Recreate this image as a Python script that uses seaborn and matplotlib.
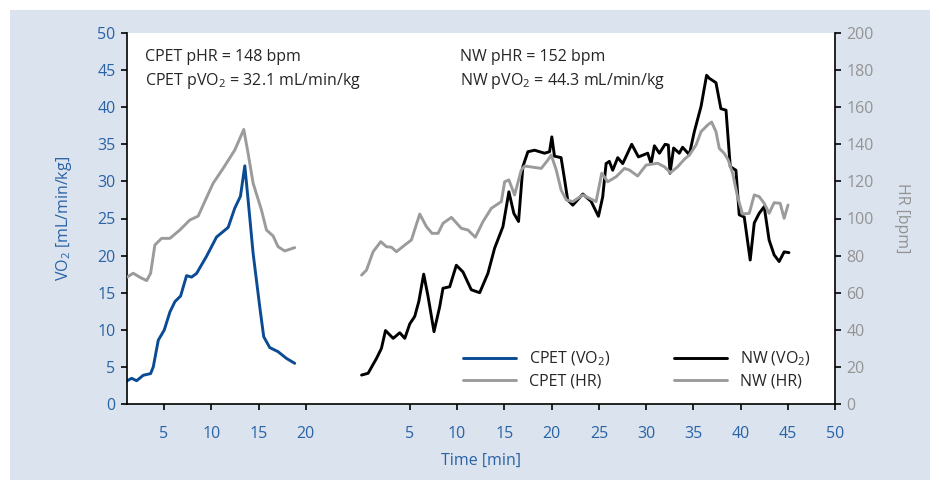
import numpy as np
import pandas as pd
import seaborn as sns
import matplotlib.pyplot as plt
from matplotlib.lines import Line2D
from matplotlib.patches import Rectangle

sns.set_style('ticks')
plt.rcParams['font.family'] = ['Open Sans', 'DejaVu Sans']
plt.rcParams['mathtext.default'] = 'regular'

##### data
# CPET test
cpet_vo2_t = [1.06, 1.58, 2.11, 2.81, 3.59, 3.87, 4.4, 5.03, 5.63, 6.16, 6.76, 7.39, 7.92, 8.45,
              9.5, 10.56, 11.79, 12.49, 13.09, 13.55, 13.9, 14.43, 15.13, 15.55, 16.19, 17.07,
              17.95, 18.83]
cpet_vo2 = [3.1, 3.46, 3.14, 3.87, 4.1, 5.0, 8.6, 9.97, 12.4, 13.8, 14.55, 17.3, 17.1, 17.6,
            19.9, 22.5, 23.8, 26.4, 28.0, 32.1, 27.5, 20.3, 13.1, 9.07, 7.6, 7.05, 6.15, 5.48]
cpet_hr_t = [1.06, 1.75, 2.46, 3.17, 3.59, 4.04, 4.75, 5.63, 6.68, 7.74, 8.62, 9.15, 10.2,
             11.26, 12.49, 13.44, 13.9, 14.43, 15.31, 15.84, 16.54, 17.07, 17.77, 18.83]
cpet_hr = [68.3, 70.5, 68.3, 66.5, 70.5, 85.7, 89.3, 89.3, 93.8, 99.2, 101.3, 107.3, 119,
           127, 136.9, 148, 135.1, 119, 104.6, 93.8, 90.6, 84.8, 82.5, 84.3]

# NW test
nw_vo2_t = [-0.1, 0.59, 1.48, 2.0, 2.43, 3.24, 3.94, 4.47, 5.0, 5.52, 5.95, 6.47, 6.93, 7.56,
            8.16, 8.51, 9.22, 9.92, 10.62, 11.5, 12.39, 13.26, 13.97, 14.85, 15.48, 16.0, 16.5,
            16.96, 17.49, 18.2, 19.25, 19.78, 20.02, 20.3, 21.0, 21.35, 21.7, 22.24, 23.3,
            24.18, 24.95, 25.4, 25.76, 26.1, 26.46, 26.99, 27.52, 28.47, 29.18, 30.16, 30.52,
            30.87, 31.4, 32.0, 32.34, 32.52, 32.9, 33.5, 33.85, 34.56, 35.09, 35.8, 36.39,
            36.67, 37.38, 37.9, 38.44, 38.89, 39.49, 39.84, 40.37, 41.0, 41.43, 41.95, 42.48,
            43.0, 43.53, 44.06, 44.59, 45.1]
nw_vo2 = [3.9, 4.14, 6.15, 7.5, 9.9, 8.85, 9.6, 8.85, 10.8, 11.8, 13.8, 17.5, 14.5, 9.75,
          13.1, 15.6, 15.8, 18.7, 17.8, 15.4, 15.0, 17.6, 21.0, 23.9, 28.6, 25.7, 24.6,
          32.0, 34.0, 34.2, 33.8, 34.0, 36.0, 33.4, 33.2, 30.4, 27.5, 26.8, 28.3,
          27.3, 25.3, 27.9, 32.4, 32.7, 31.5, 33.2, 32.4, 35.0, 33.3, 33.8, 32.4,
          34.8, 33.8, 35.0, 34.9, 31.1, 34.5, 33.8, 34.6, 33.6, 36.7, 40.1, 44.3,
          43.9, 43.3, 39.8, 39.6, 32.0, 31.5, 25.5, 25.2, 19.4, 24.4, 25.7, 26.6,
          22.1, 20.1, 19.2, 20.5, 20.4]
nw_hr_t = [-0.1, 0.42, 1.12, 1.93, 2.53, 3.06, 3.59, 4.47, 5.17, 6.05, 6.76, 7.35, 7.99, 8.51,
           9.4, 10.45, 11.15, 11.93, 12.74, 13.62, 14.68, 15.03, 15.48, 16.08, 16.79, 17.14,
           18.9, 19.6, 19.96, 20.49, 21.0, 21.55, 22.24, 23.3, 24.0, 24.7, 25.3, 25.93, 26.82,
           27.7, 28.23, 29.1, 29.99, 31.21, 31.92, 32.56, 33.33, 34.03, 34.56, 35.27, 35.8,
           36.5, 36.92, 37.38, 37.73, 38.26, 38.68, 39.14, 39.66, 40.19, 40.9, 41.43, 41.95,
           42.48, 43.0, 43.53, 44.17, 44.59, 45.0]
nw_hr = [69.5, 72.2, 82.1, 87.5, 84.8, 84.5, 82.1, 85.7, 88.4, 102.4, 95.6, 92, 92, 97.4,
         100.6, 94.7, 93.8, 89.9, 98.3, 105.5, 109.1, 119.8, 120.8, 112.7, 126.1, 128.3,
         127, 131.5, 134.2, 126.1, 115.4, 110, 109.1, 112.7, 110.9, 109.1, 124.4, 119.8, 122.5,
         127, 126.1, 122.9, 128.8, 129.8, 127.9, 124.7, 127.9, 131.9, 134.2, 139.6, 146.8,
         150.4, 152, 146.8, 137.8, 135.1, 131.5, 124.4, 111.8, 102.4, 102.8, 112.7, 111.8,
         108.2, 102.8, 108.5, 108.2, 100.1, 107.3]

cpet_ticks = [5, 10, 15, 20]
nw_ticks = [5, 10, 15, 20, 25, 30, 35, 40, 45, 50]
nw_offset = 26  # NW time axis starts after the CPET block

##### colours
blue = '#0a4b94'
tick_blue = '#2a62a6'
gray = '#9b9b9b'
gray_txt = '#939393'
panel = '#dbe4ee'

fig = plt.figure(figsize=(9.39, 4.82), dpi=100, facecolor='white')
fig.patches.append(Rectangle((10 / 939, 2 / 482), 920 / 939, 470 / 482, transform=fig.transFigure,
                             facecolor=panel, edgecolor='none', zorder=-10))
ax = fig.add_axes([126.7 / 939, 1 - 404 / 482, (835.3 - 126.7) / 939, 371 / 482])
ax.set_facecolor('white')
ax2 = ax.twinx()

lw = 2.1
sns.lineplot(x=cpet_vo2_t, y=cpet_vo2, ax=ax, color=blue, lw=lw, sort=False)
sns.lineplot(x=np.array(nw_vo2_t) + nw_offset, y=nw_vo2, ax=ax, color='black', lw=lw, sort=False)
sns.lineplot(x=cpet_hr_t, y=cpet_hr, ax=ax2, color=gray, lw=lw, sort=False)
sns.lineplot(x=np.array(nw_hr_t) + nw_offset, y=nw_hr, ax=ax2, color=gray, lw=lw, sort=False)

ax.set_xlim(cpet_vo2_t[0], nw_offset + 50)
ax.set_ylim(0, 50)
ax2.set_ylim(0, 200)
ax.set_yticks(range(0, 51, 5))
ax2.set_yticks(range(0, 201, 20))
ax.set_xticks(cpet_ticks + [t + nw_offset for t in nw_ticks])
ax.set_xticklabels([str(t) for t in cpet_ticks + nw_ticks])

fs = 11.5
for a in (ax, ax2):
    a.spines['top'].set_visible(False)
    for s in ('left', 'right', 'bottom'):
        a.spines[s].set_linewidth(1.2)
        a.spines[s].set_color('black')
    a.tick_params(direction='out', length=4, width=1.2, color='black', labelsize=fs)
ax.spines['right'].set_visible(False)
ax2.spines['left'].set_visible(False)
ax2.spines['bottom'].set_visible(False)
ax.tick_params(axis='both', labelcolor=tick_blue, pad=4)
ax.tick_params(axis='x', pad=12)
ax2.tick_params(axis='y', labelcolor=gray_txt, pad=4)

ax.set_xlabel('Time [min]', color=tick_blue, fontsize=fs, labelpad=8)
ax.set_ylabel('VO$_2$ [mL/min/kg]', color=tick_blue, fontsize=fs, labelpad=17)
ax2.set_ylabel('HR [bpm]', color=gray_txt, fontsize=fs, rotation=270, labelpad=26)

ax.text(0.026, 0.957, 'CPET pHR = 148 bpm\nCPET pVO$_2$ = 32.1 mL/min/kg', transform=ax.transAxes,
        ha='left', va='top', fontsize=fs, linespacing=1.4)
ax.text(0.470, 0.957, 'NW pHR = 152 bpm\nNW pVO$_2$ = 44.3 mL/min/kg', transform=ax.transAxes,
        ha='left', va='top', fontsize=fs, linespacing=1.4)

handles = [Line2D([], [], color=blue, lw=lw), Line2D([], [], color=gray, lw=lw),
           Line2D([], [], color='black', lw=lw), Line2D([], [], color=gray, lw=lw)]
labels = ['CPET (VO$_2$)', 'CPET (HR)', 'NW (VO$_2$)', 'NW (HR)']
ax2.legend(handles, labels, ncol=2, loc='lower right', bbox_to_anchor=(0.985, 0.0), frameon=False,
           fontsize=fs, handlelength=3.3, columnspacing=4.0, labelspacing=0.35, handletextpad=0.8)

plt.savefig('out.png', dpi=100, facecolor='white')
